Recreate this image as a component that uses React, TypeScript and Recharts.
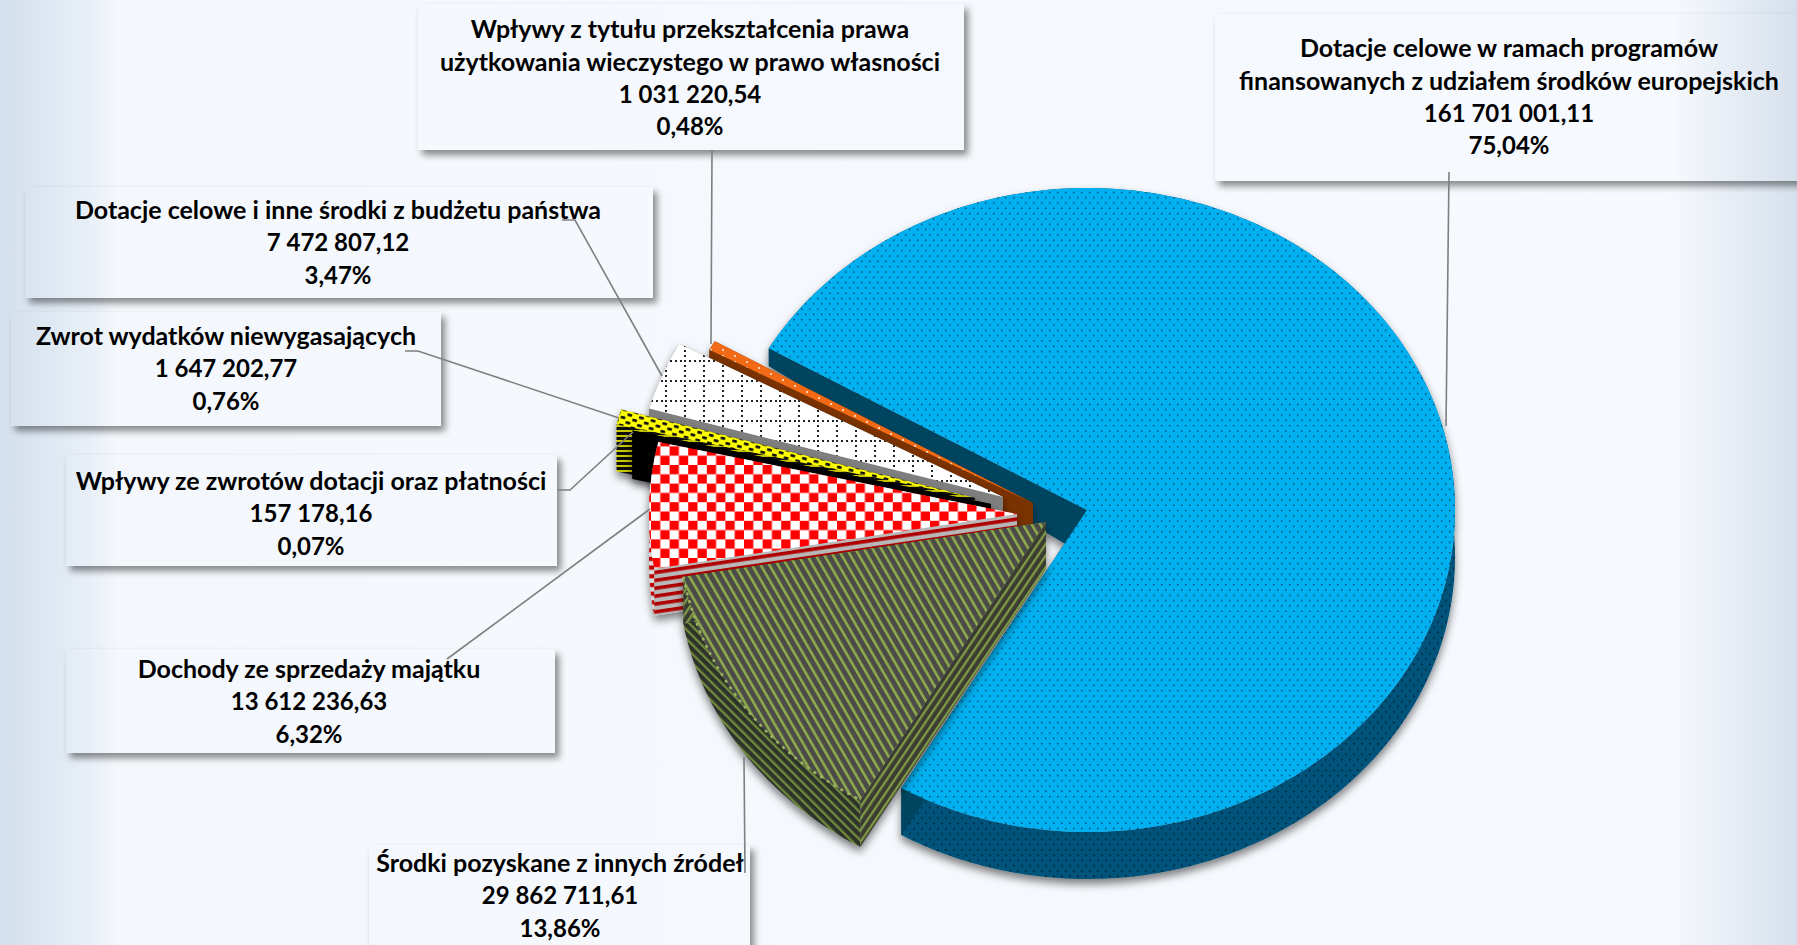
import React from 'react';
import { PieChart, Pie } from 'recharts';

const categories = [
  ['Dotacje celowe w ramach programów', 'finansowanych z udziałem środków europejskich'],
  ['Wpływy z tytułu przekształcenia prawa', 'użytkowania wieczystego w prawo własności'],
  ['Dotacje celowe i inne środki z budżetu państwa'],
  ['Zwrot wydatków niewygasających'],
  ['Wpływy ze zwrotów dotacji oraz płatności'],
  ['Dochody ze sprzedaży majątku'],
  ['Środki pozyskane z innych źródeł'],
];
const values = [161701001.11, 1031220.54, 7472807.12, 1647202.77, 157178.16, 13612236.63, 29862711.61];
const percents = [75.04, 0.48, 3.47, 0.76, 0.07, 6.32, 13.86];

const data = categories.map((lines, i) => ({ name: lines.join(' '), value: values[i] }));

// chart geometry
const CX = 1087;
const CY = 510;
const RX = 368;
const RY = 322;

// how far each slice is pulled out from the centre
const explode = [[0, 0], [-54, -7], [-84, -13], [-112, -12], [-96, -6], [-70, 4], [-41, 12]];

const topFills = ['url(#pBlue)', 'url(#pOrange)', 'url(#pGrid)', 'url(#pYellow)', '#000000', 'url(#pChecker)', 'url(#pOlive)'];
const rimFills = ['url(#pBlueWall)', '#7a3300', '#7f7f7f', 'url(#pYellowWall)', '#000000', 'url(#pRedWall)', 'url(#pOliveWall)'];
const edgeFills = ['#03455f', '#7a3300', '#7f7f7f', 'url(#pYellowWall)', '#000000', 'url(#pRedEdge)', 'url(#pOliveEdge)'];

const boxes = [
  { x: 1215, y: 14, w: 590, h: 167, tx: 1509, ty: 47, leader: '1449,172 1446,426' },
  { x: 418, y: 4, w: 546, h: 146, tx: 690, ty: 28, leader: '712,150 711,344' },
  { x: 25, y: 187, w: 628, h: 111, tx: 338, ty: 209, leader: '562,220 575,220 662,376' },
  { x: 11, y: 312, w: 430, h: 114, tx: 226, ty: 335, leader: '405,351 418,351 619,418' },
  { x: 66, y: 455, w: 491, h: 111, tx: 311, ty: 480, leader: '557,490 570,490 633,432' },
  { x: 66, y: 649, w: 489, h: 104, tx: 309, ty: 668, leader: '447,659 650,509' },
  { x: 369, y: 845, w: 381, h: 120, tx: 560, ty: 862, leader: '744,757 745,873' },
];

const LINE_H = 32.6;

const formatAmount = (v: number) => {
  const [whole, frac] = v.toFixed(2).split('.');
  return whole.replace(/\B(?=(\d{3})+$)/g, ' ') + ',' + frac;
};

const depthAt = (y: number) => Math.max(18, Math.min(47, 18 + ((y - 350) * 29) / 70));

const renderSlice = (props: any) => {
  const { cx, cy, outerRadius, startAngle, endAngle, index } = props;
  const ry = (outerRadius * RY) / RX;
  const [ox, oy] = explode[index];
  const ax = cx + ox;
  const ay = cy + oy;
  const steps = Math.max(2, Math.ceil(Math.abs(endAngle - startAngle)));
  const rim: [number, number][] = [];
  for (let i = 0; i <= steps; i++) {
    const t = ((startAngle + ((endAngle - startAngle) * i) / steps) * Math.PI) / 180;
    rim.push([ax + outerRadius * Math.cos(t), ay - ry * Math.sin(t)]);
  }
  const lower = (p: [number, number]) => [p[0], p[1] + depthAt(p[1])];
  const rimLine = rim.map((p) => p.join(',')).join(' ');
  const rimWall = rimLine + ' ' + rim.slice().reverse().map((p) => lower(p).join(',')).join(' ');
  const apex: [number, number] = [ax, ay];
  const edgeWall = (p: [number, number]) =>
    [apex, p, lower(p), lower(apex)].map((q) => q.join(',')).join(' ');
  const top = 'M' + ax + ' ' + ay + ' L' + rim.map((p) => p.join(' ')).join(' L') + ' Z';
  return (
    <g filter="url(#sliceShadow)">
      <polygon points={rimWall} fill={rimFills[index]} />
      <polygon points={edgeWall(rim[0])} fill={edgeFills[index]} />
      <polygon points={edgeWall(rim[rim.length - 1])} fill={edgeFills[index]} />
      <path d={top} fill={topFills[index]} />
      {index === 6 && (
        <polyline points={rimLine} fill="none" stroke="#9db35e" strokeWidth={2.5} strokeDasharray="3 5" />
      )}
    </g>
  );
};

const renderLabel = (props: any) => {
  const i = props.index;
  const b = boxes[i];
  const names = categories[i];
  const lines = [...names, formatAmount(values[i]), percents[i].toFixed(2).replace('.', ',') + '%'];
  return (
    <g key={i}>
      <rect x={b.x} y={b.y} width={b.w} height={b.h} fill="url(#bgGrad)" filter="url(#boxShadow)" />
      {lines.map((t, k) => (
        <text
          key={k}
          x={b.tx}
          y={b.ty + k * LINE_H}
          textAnchor="middle"
          dominantBaseline="central"
          fontFamily="Lato, sans-serif"
          fontWeight={700}
          fontSize={k < names.length ? 25 : 24}
          fill="#000000"
        >
          {t}
        </text>
      ))}
      <polyline points={b.leader} fill="none" stroke="#7f7f7f" strokeWidth={1.6} />
    </g>
  );
};

const bgStops = [
  ['0', '#d3dfec'], ['0.05', '#e8eff7'], ['0.065', '#f4f7fb'], ['0.93', '#f6f9fd'], ['1', '#d6e0ec'],
];

const Patterns = () => (
  <defs>
    <linearGradient id="bgGrad" gradientUnits="userSpaceOnUse" x1={0} y1={0} x2={1797} y2={0}>
      {bgStops.map(([o, c]) => <stop key={o} offset={o} stopColor={c} />)}
    </linearGradient>
    <filter id="sliceShadow" filterUnits="userSpaceOnUse" x={0} y={0} width={1797} height={945}>
      <feDropShadow dx={0} dy={5} stdDeviation={4} floodColor="#000000" floodOpacity={0.5} />
    </filter>
    <filter id="boxShadow" filterUnits="userSpaceOnUse" x={0} y={-20} width={1797} height={985}>
      <feDropShadow dx={4} dy={5} stdDeviation={3.5} floodColor="#000000" floodOpacity={0.45} />
    </filter>
    <pattern id="pBlue" patternUnits="userSpaceOnUse" width={8} height={10.6}>
      <rect width={8} height={10.6} fill="#00b0f0" />
      <rect x={1} y={1} width={1.4} height={1.4} fill="#03415e" />
      <rect x={5} y={6.3} width={1.4} height={1.4} fill="#03415e" />
    </pattern>
    <pattern id="pBlueWall" patternUnits="userSpaceOnUse" width={8} height={10.6}>
      <rect width={8} height={10.6} fill="#04527a" />
      <rect x={1} y={1} width={1.6} height={1.6} fill="#01222f" />
      <rect x={5} y={6.3} width={1.6} height={1.6} fill="#01222f" />
    </pattern>
    <pattern id="pOrange" patternUnits="userSpaceOnUse" width={12} height={6}>
      <rect width={12} height={6} fill="#f26a12" />
      <circle cx={3} cy={2} r={0.9} fill="#ffffff" />
    </pattern>
    <pattern id="pGrid" patternUnits="userSpaceOnUse" width={19} height={20}>
      <rect width={19} height={20} fill="#ffffff" />
      {[0, 5, 10, 15].map((d) => <rect key={'h' + d} x={d} y={0} width={2} height={2} fill="#222222" />)}
      {[5, 10, 15].map((d) => <rect key={'v' + d} x={0} y={d} width={2} height={2} fill="#222222" />)}
    </pattern>
    <pattern id="pYellow" patternUnits="userSpaceOnUse" width={12} height={8} patternTransform="rotate(14)">
      <rect width={12} height={8} fill="#ffff00" />
      <rect x={1} y={1} width={5} height={2.8} rx={1} fill="#111111" />
      <rect x={7} y={5} width={5} height={2.8} rx={1} fill="#111111" />
    </pattern>
    <pattern id="pYellowWall" patternUnits="userSpaceOnUse" width={6} height={5}>
      <rect width={6} height={5} fill="#111111" />
      <rect width={6} height={2} fill="#c9c900" />
    </pattern>
    <pattern id="pChecker" patternUnits="userSpaceOnUse" width={18.6} height={18.6}>
      <rect width={18.6} height={18.6} fill="#ffffff" />
      <rect width={9.3} height={9.3} fill="#ff0000" />
      <rect x={9.3} y={9.3} width={9.3} height={9.3} fill="#ff0000" />
    </pattern>
    <pattern id="pRedWall" patternUnits="userSpaceOnUse" width={9} height={8.7}>
      <rect width={9} height={8.7} fill="#d9d9d9" />
      <rect width={9} height={4.2} fill="#c00000" />
    </pattern>
    <pattern id="pRedEdge" patternUnits="userSpaceOnUse" width={9} height={7.8} patternTransform="translate(653,571) rotate(-8.4)">
      <rect width={9} height={7.8} fill="#b9b9b9" />
      <rect width={9} height={3.6} fill="#b00000" />
    </pattern>
    <pattern id="pOlive" patternUnits="userSpaceOnUse" width={7.5} height={7.5} patternTransform="rotate(-30)">
      <rect width={7.5} height={7.5} fill="#4b4b46" />
      <rect width={2.6} height={7.5} fill="#8da94e" />
    </pattern>
    <pattern id="pOliveWall" patternUnits="userSpaceOnUse" width={6.5} height={6.5} patternTransform="rotate(-45)">
      <rect width={6.5} height={6.5} fill="#2f332b" />
      <rect width={2.3} height={6.5} fill="#6f8a3c" />
    </pattern>
    <pattern id="pOliveEdge" patternUnits="userSpaceOnUse" width={6.5} height={6.5} patternTransform="rotate(34)">
      <rect width={6.5} height={6.5} fill="#3a3d33" />
      <rect width={2.3} height={6.5} fill="#7f9a47" />
    </pattern>
  </defs>
);

export default function App() {
  return (
    <div
      style={{
        position: 'absolute',
        left: 0,
        top: 0,
        width: 1797,
        height: 945,
        overflow: 'hidden',
        background: `linear-gradient(to right, ${bgStops.map(([o, c]) => `${c} ${Number(o) * 100}%`).join(', ')})`,
      }}
    >
      <PieChart width={1797} height={945} margin={{ top: 0, right: 0, bottom: 0, left: 0 }}>
        <Patterns />
        <Pie
          data={data}
          dataKey="value"
          nameKey="name"
          cx={CX}
          cy={CY}
          innerRadius={0}
          outerRadius={RX}
          startAngle={239.7}
          endAngle={599.7}
          stroke="none"
          shape={renderSlice}
          label={renderLabel}
          labelLine={false}
          isAnimationActive={false}
        />
      </PieChart>
    </div>
  );
}
